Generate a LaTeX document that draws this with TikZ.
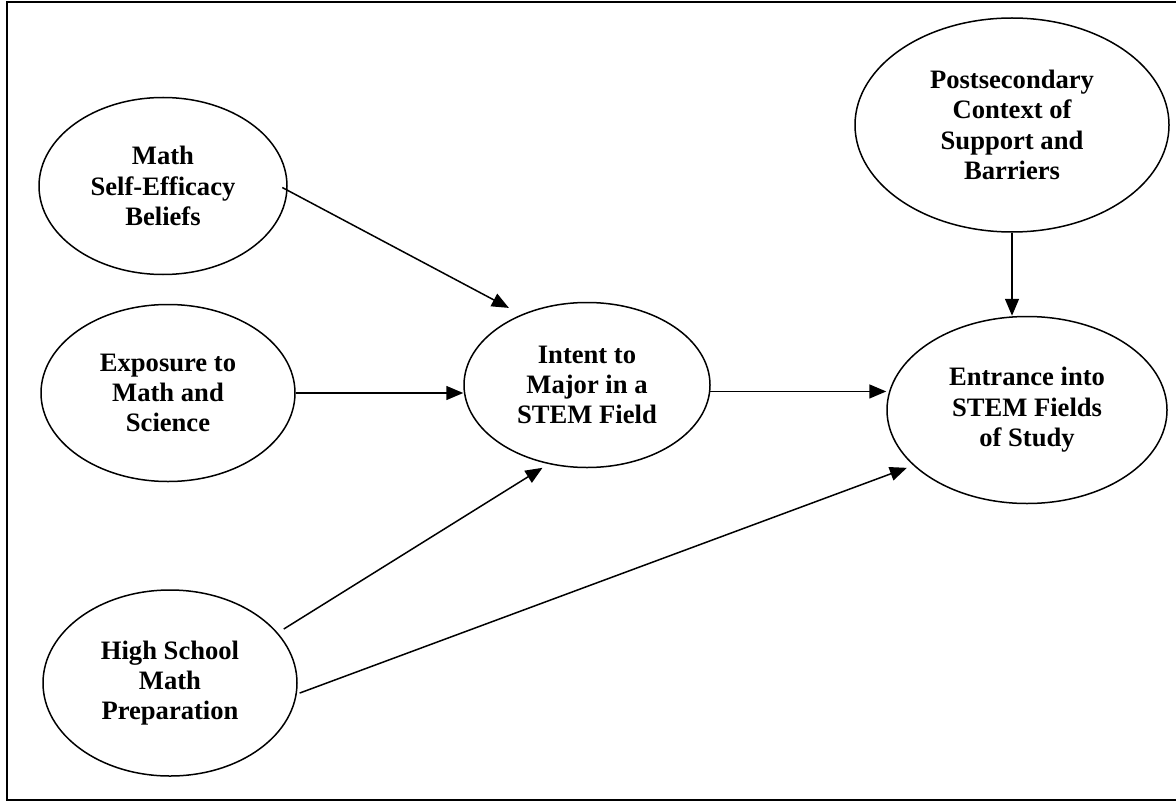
\documentclass[tikz,border=0pt]{standalone}
\usepackage{fontspec}
\setmainfont{Liberation Serif}
\usetikzlibrary{arrows.meta, shapes.geometric}

\begin{document}
\begin{tikzpicture}[
	x=0.5pt, y=-0.5pt,
	factor/.style={ellipse, draw, line width=0.75pt, inner sep=0pt,
		align=center, font=\bfseries\fontsize{13.3}{15.2}\selectfont},
	line/.style={draw, line width=0.75pt, -{Triangle[length=8.5pt, width=7pt]}},
	]
	\useasboundingbox (0,0) rectangle (1176,802);
	\draw [line width=0.95pt] (1176,2) -- (7,2) -- (7,800) -- (1176,800);
	
	\node [factor, minimum width=124pt, minimum height=88.5pt] (math) at (163,186) {Math\\Self-Efficacy\\Beliefs};
	\node [factor, minimum width=127pt, minimum height=88.5pt] (expo) at (168,393) {Exposure to\\Math and\\Science};
	\node [factor, minimum width=127pt, minimum height=93pt] (hs) at (170,683) {High School\\Math\\Preparation};
	\node [factor, minimum width=123pt, minimum height=82.5pt] (intent) at (587,385) {Intent to\\Major in a\\STEM Field};
	\node [factor, minimum width=157pt, minimum height=107pt] (post) at (1012,125) {Postsecondary\\Context of\\Support and\\Barriers};
	\node [factor, minimum width=140pt, minimum height=93.5pt] (entr) at (1027,410) {Entrance into\\STEM Fields\\of Study};
	
	\path [line, shorten <=-3pt, shorten >=7pt] (math.-2) -- (intent.133);
	\path [line] (expo.east) -- (expo.east -| intent.west);
	\path [line, shorten <=3.5pt, shorten >=3.5pt] (hs.25) -- (intent.244);
	\path [line, shorten <=1.5pt, shorten >=3.4pt] (hs.-5) -- (entr.206);
	\path [line] (intent.-3) -- (intent.-3 -| entr.west);
	\path [line] (post.south) -- (post.south |- entr.north);
\end{tikzpicture}
\end{document}
